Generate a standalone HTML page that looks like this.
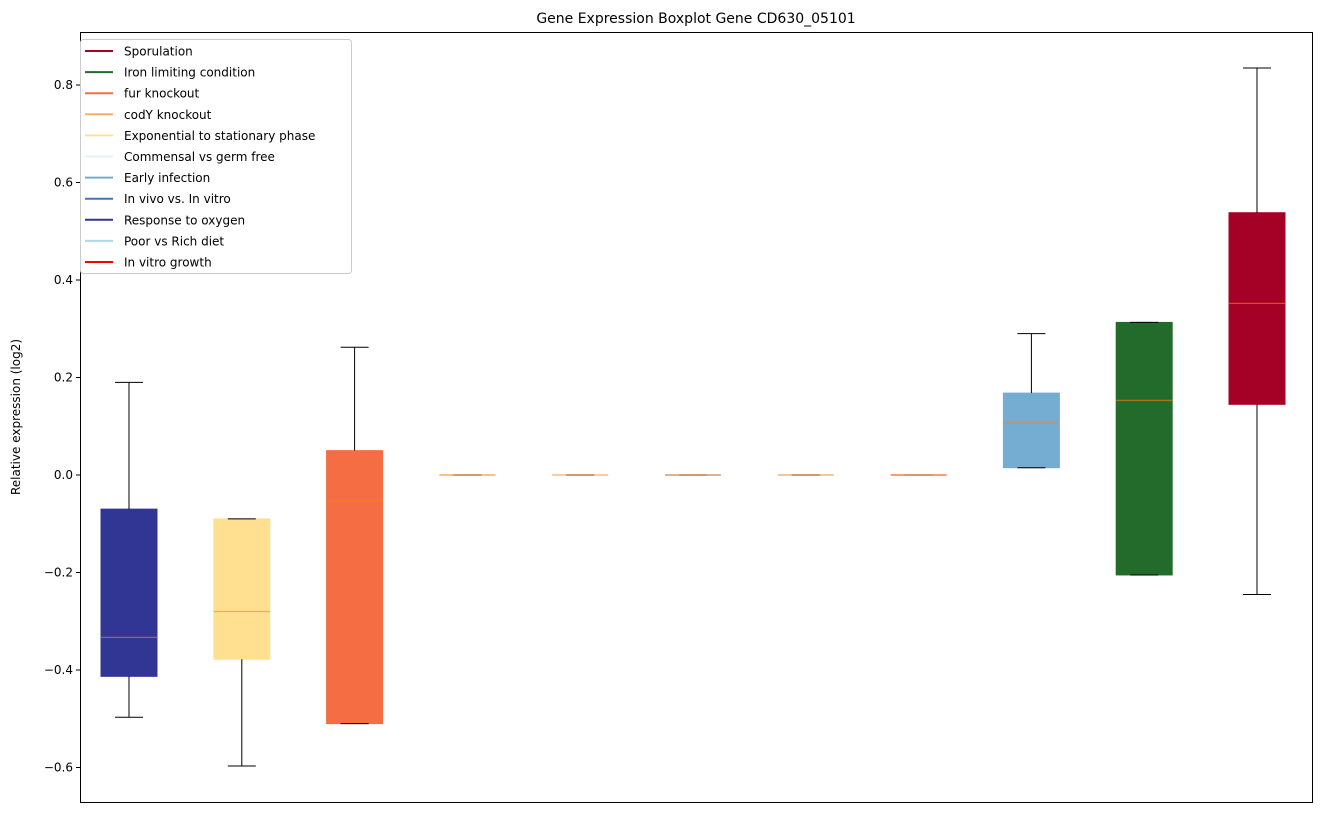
<!DOCTYPE html>
<html><head><meta charset="utf-8"><style>
body{margin:0;background:#fff;font-family:"Liberation Sans","DejaVu Sans",sans-serif}
svg text{font-family:"DejaVu Sans","Liberation Sans",sans-serif}
</style></head><body>
<svg id="chart" width="1322" height="812" xmlns="http://www.w3.org/2000/svg">
<rect width="1322" height="812" fill="#fff"/>
<text x="696" y="23" text-anchor="middle" font-size="14">Gene Expression Boxplot Gene CD630_05101</text>
<g id="boxes"></g>
<rect x="80.5" y="32.5" width="1232" height="770" fill="none" stroke="#000"/>
<g id="yticks"></g>
<text transform="translate(20,417) rotate(-90)" text-anchor="middle" font-size="12">Relative expression (log2)</text>
<g id="legend"></g>
</svg>
<script>
const categories=["Response to oxygen","Exponential to stationary phase","fur knockout","codY knockout","Commensal vs germ free","In vivo vs. In vitro","Poor vs Rich diet","In vitro growth","Early infection","Iron limiting condition","Sporulation"];
const boxColors=["#313695","#fee090","#f46d43","#fdae61","#e0f3f8","#4575b4","#abd9e9","#ff0000","#74add1","#226b2a","#a50026"];
const whiskerLow=[-0.497,-0.597,-0.51,0,0,0,0,0,0.015,-0.205,-0.245];
const q1=[-0.413,-0.378,-0.51,0,0,0,0,0,0.015,-0.205,0.145];
const medians=[-0.333,-0.28,-0.053,0,0,0,0,0,0.107,0.153,0.352];
const q3=[-0.07,-0.09,0.05,0,0,0,0,0,0.168,0.313,0.538];
const whiskerHigh=[0.19,-0.09,0.262,0,0,0,0,0,0.29,0.313,0.835];
const yTicks=[-0.6,-0.4,-0.2,0.0,0.2,0.4,0.6,0.8];
const legendLabels=["Sporulation","Iron limiting condition","fur knockout","codY knockout","Exponential to stationary phase","Commensal vs germ free","Early infection","In vivo vs. In vitro","Response to oxygen","Poor vs Rich diet","In vitro growth"];
const legendColors=["#a50026","#226b2a","#f46d43","#fdae61","#fee090","#e0f3f8","#74add1","#4575b4","#313695","#abd9e9","#ff0000"];
const NS="http://www.w3.org/2000/svg";
const yS=v=>475-v*487.5;
const xS=i=>129+i*112.8;
function mk(t,a,p){const e=document.createElementNS(NS,t);for(const k in a)e.setAttribute(k,a[k]);p.appendChild(e);return e;}
const gb=document.getElementById('boxes');
categories.forEach((c,i)=>{
 const g=mk('g',{},gb);
 
 
 const x=xS(i),w=56,hw=28;
 const ln=(x1,y1,x2,y2,col)=>mk('line',{x1,y1,x2,y2,stroke:col,'stroke-width':1},g);
 const top=yS(q3[i]),bot=yS(q1[i]);
 const flat=(bot-top)<1;
 if(!flat){
  mk('rect',{x:x-hw,y:top,width:w,height:bot-top,fill:boxColors[i],stroke:boxColors[i],'stroke-width':1},g);
 } else {
  mk('line',{x1:x-hw,y1:top,x2:x+hw,y2:top,stroke:boxColors[i],'stroke-width':1},g);
 }
 ln(x,yS(whiskerLow[i]),x,yS(q1[i]),'#000');
 ln(x,yS(q3[i]),x,yS(whiskerHigh[i]),'#000');
 ln(x-14,yS(whiskerLow[i]),x+14,yS(whiskerLow[i]),'#000');
 ln(x-14,yS(whiskerHigh[i]),x+14,yS(whiskerHigh[i]),'#000');
 const m=mk('line',{x1:x-hw,y1:yS(medians[i]),x2:x+hw,y2:yS(medians[i]),stroke:'#ff7f0e','stroke-width':1.3,'stroke-opacity':0.6},g);
});
const gy=document.getElementById('yticks');
yTicks.forEach(v=>{
 const y=yS(v);
 const l=mk('line',{x1:76,y1:y,x2:80,y2:y,stroke:'#000'},gy);
 
 
 const t=mk('text',{x:73,y:y+4,'text-anchor':'end','font-size':12},gy);
 
 
 t.textContent=(v<0?'\u2212':'')+Math.abs(v).toFixed(1);
});
const gl=document.getElementById('legend');
const lb=mk('rect',{x:80.5,y:39.5,width:271,height:234,rx:3,fill:'#fff',stroke:'#ccc'},gl);


legendLabels.forEach((s,i)=>{
 const y=51+i*21.1;
 const g=mk('g',{},gl);
 
 
 mk('line',{x1:85,y1:y,x2:113,y2:y,stroke:legendColors[i],'stroke-width':2},g);
 const t=mk('text',{x:124,y:y+4.5,'font-size':12},g);
 t.textContent=s;
});
</script>
</body></html>
